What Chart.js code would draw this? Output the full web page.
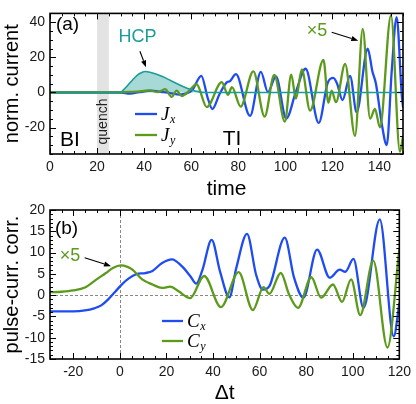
<!DOCTYPE html>
<html><head><meta charset="utf-8">
<script src="https://cdn.jsdelivr.net/npm/chart.js@4.4.1/dist/chart.umd.min.js"></script>
<style>
html,body{margin:0;padding:0;background:#fff;}
#wrap{position:relative;width:416px;height:404px;overflow:hidden;background:#fff;}
canvas{position:absolute;left:0;}
#c1{top:0;}
#c2{top:195px;}
</style></head><body>
<div id="wrap">
<canvas id="c1" width="416" height="200"></canvas>
<canvas id="c2" width="416" height="209"></canvas>
</div>
<script>
// ---------- panel (a): normalised current vs time ----------
const hcpTime   = [0, 30, 31, 33, 35, 37, 39, 40.5, 42, 45, 48, 51, 54, 57, 60, 63, 66, 150];
const hcpValues = [0, 0, 1.2, 4, 7, 9.8, 11.4, 11.9, 11.7, 10.5, 8.9, 7, 5, 3.1, 1.6, 0.5, 0, 0];

const jxTime   = [0, 30, 34, 38, 43, 47, 51, 55, 58, 60.5, 64.3, 67, 69, 72, 75, 76.5, 79, 85, 89.6, 92.6, 96, 100.4, 104.5, 108.6, 114.2, 118, 120.4, 122, 124.3, 127.5, 130.3, 135, 137, 138.5, 141, 143.1, 145.2, 147.3, 149.5, 150];
const jxValues = [0, 0, -0.6, 0.2, 1.1, 0.4, -0.3, -1.2, -0.5, 1.5, 9.5, -3, -9.4, -1, 5.6, 6.5, 10.4, -13.3, 11.7, 0.2, 9.2, -14.8, 0.5, 13.5, -17.3, 5.5, 8.3, 5, -4.3, 9.5, -11.2, 24.9, 12, 5, -18, -30, 12, 42.9, -2, -8];

const jyTime   = [0, 30, 33, 37, 42, 46, 48.9, 51.7, 53.8, 56, 59, 62.3, 66.6, 73, 75.6, 77.3, 81, 86.4, 91.2, 95.3, 99.8, 102.5, 104.5, 107, 110.5, 116.2, 118.3, 119.7, 121.5, 125.4, 129.6, 132.9, 136, 138.1, 140.2, 144.9, 148.7, 150];
const jyValues = [0, 0, 0.3, 0.5, 1.2, 0.2, 1.9, -2.5, 1.1, -2, 0.8, 4.7, -8.3, 5.9, -1.3, 3, -8, 12, -13.7, 10, -16.6, 10.2, -3.5, 13.1, -10.3, 18.5, -5.8, 1, -5.5, 16.2, -24.7, 36.2, -14.8, -9.4, -19.8, 43.8, -33.7, -25];

const timeTicks    = [0, 20, 40, 60, 80, 100, 120, 140];
const currentTicks = [-20, 0, 20, 40];

// ---------- panel (b): pulse-current correlation vs lag ----------
const cxLag    = [-30, -20, -15, -11, -8, -5, -2, 1, 4, 7, 11, 14, 18, 22.4, 26.6, 30.2, 32.8, 35.5, 39.4, 43, 47, 50, 54.6, 58.5, 61.4, 64.2, 70.8, 74.8, 78.8, 84.7, 90.1, 94.4, 96.8, 100.3, 104.6, 111.6, 117.6, 120];
const cxValues = [-3.8, -3.8, -3.6, -3.1, -2.4, -1, 0.8, 2.6, 4, 4.9, 5.2, 5.7, 7.5, 8.4, 6.8, 4.5, 2.7, 6, 13, 5.6, -0.5, 6.4, 14.4, 4.8, 1.3, 2.1, 13.5, 4.1, -0.6, 10.7, 4.1, 6.0, 5.5, 8.5, -3.0, 17.8, -9.7, -2];

const cyLag    = [-30, -25, -20, -15, -10, -6, -3, 0.5, 3, 5.4, 9.6, 14, 18.1, 21.7, 25.2, 30.2, 36.2, 43.4, 51, 57.1, 61.7, 64.2, 69.1, 72.7, 76.5, 82.2, 86.4, 91.5, 95.4, 99.3, 103.2, 108.8, 114.9, 120];
const cyValues = [0.7, 0.8, 1.1, 1.8, 3.7, 5.2, 6.4, 7.0, 6.7, 6.0, 3.7, 2.5, 1.7, 2.0, 0.9, -0.7, 4.5, -2.8, 5.4, -3.5, 1.9, 0.3, 5.2, 0.1, -3.0, 4.2, -0.6, 2.5, -1.6, 3.7, -4.7, 8.1, -12.3, 10.7];

const lagTicks  = [-20, 0, 20, 40, 60, 80, 100, 120];
const corrTicks = [-15, -10, -5, 0, 5, 10, 15, 20];

// ---------- styling ----------
const BLUE = '#1f4cf2', GREEN = '#5b9a1b', TEAL = '#1c9c99', TEALFILL = '#a7d9d6';
const SANS = '"Liberation Sans", Arial, Helvetica, sans-serif';
const SERIF = '"Liberation Serif", "Times New Roman", serif';

const pts = (xs, ys) => xs.map((x, i) => ({x: x, y: ys[i]}));

// frame + inward ticks on all four sides
const framePlugin = {
  id: 'frame',
  afterDatasetsDraw(chart, args, o) {
    const {ctx, chartArea: {left, right, top, bottom}, scales: {x, y}} = chart;
    const xs = x.ticks.map(t => t.value), ys = y.ticks.map(t => t.value);
    ctx.save();
    ctx.strokeStyle = '#000';
    ctx.lineWidth = 1;
    ctx.beginPath();
    for (let v = Math.ceil(x.min / o.xMinor) * o.xMinor; v <= x.max + 1e-9; v += o.xMinor) {
      const p = Math.round(x.getPixelForValue(v)) + 0.5;
      const L = xs.some(m => Math.abs(m - v) < 1e-6) ? o.major : o.minor;
      ctx.moveTo(p, bottom); ctx.lineTo(p, bottom - L);
      ctx.moveTo(p, top); ctx.lineTo(p, top + L);
    }
    for (let v = Math.ceil(y.min / o.yMinor) * o.yMinor; v <= y.max + 1e-9; v += o.yMinor) {
      const p = Math.round(y.getPixelForValue(v)) + 0.5;
      const L = ys.some(m => Math.abs(m - v) < 1e-6) ? o.major : o.minor;
      ctx.moveTo(left, p); ctx.lineTo(left + L, p);
      ctx.moveTo(right, p); ctx.lineTo(right - L, p);
    }
    ctx.stroke();
    ctx.lineWidth = 1.6;
    ctx.strokeRect(left, top, right - left, bottom - top);
    ctx.restore();
  }
};

// background decorations (quench band, dashed zero lines)
const backPlugin = {
  id: 'back',
  beforeDatasetsDraw(chart, args, o) {
    const {ctx, chartArea: {left, right, top, bottom}, scales: {x, y}} = chart;
    ctx.save();
    (o.bands || []).forEach(b => {
      ctx.fillStyle = b.color;
      const x1 = x.getPixelForValue(b.from), x2 = x.getPixelForValue(b.to);
      ctx.fillRect(x1, top, x2 - x1, bottom - top);
    });
    if (o.zeroLines) {
      ctx.strokeStyle = '#7a7a7a';
      ctx.lineWidth = 0.9;
      ctx.setLineDash([3, 2]);
      ctx.beginPath();
      const py = Math.round(y.getPixelForValue(0)) + 0.5;
      const px = Math.round(x.getPixelForValue(0)) + 0.5;
      ctx.moveTo(left, py); ctx.lineTo(right, py);
      ctx.moveTo(px, top); ctx.lineTo(px, bottom);
      ctx.stroke();
    }
    ctx.restore();
  }
};

// text annotations and arrows (placed in data coordinates)
const annotPlugin = {
  id: 'annot',
  afterDatasetsDraw(chart, args, o) {
    const {ctx, scales: {x, y}} = chart;
    ctx.save();
    (o.texts || []).forEach(t => {
      ctx.save();
      ctx.font = t.font;
      ctx.fillStyle = t.color || '#000';
      ctx.textAlign = t.align || 'left';
      ctx.textBaseline = 'middle';
      ctx.translate(x.getPixelForValue(t.x), y.getPixelForValue(t.y));
      if (t.rot) ctx.rotate(t.rot);
      ctx.fillText(t.text, 0, 0);
      ctx.restore();
    });
    (o.arrows || []).forEach(a => {
      const x1 = x.getPixelForValue(a.from[0]), y1 = y.getPixelForValue(a.from[1]);
      const x2 = x.getPixelForValue(a.to[0]), y2 = y.getPixelForValue(a.to[1]);
      const ang = Math.atan2(y2 - y1, x2 - x1);
      const hl = 7, hw = 2.6;
      ctx.strokeStyle = '#000'; ctx.fillStyle = '#000'; ctx.lineWidth = 1.1;
      ctx.beginPath();
      ctx.moveTo(x1, y1);
      ctx.lineTo(x2 - hl * Math.cos(ang), y2 - hl * Math.sin(ang));
      ctx.stroke();
      ctx.beginPath();
      ctx.moveTo(x2, y2);
      ctx.lineTo(x2 - hl * Math.cos(ang) + hw * Math.sin(ang), y2 - hl * Math.sin(ang) - hw * Math.cos(ang));
      ctx.lineTo(x2 - hl * Math.cos(ang) - hw * Math.sin(ang), y2 - hl * Math.sin(ang) + hw * Math.cos(ang));
      ctx.closePath();
      ctx.fill();
    });
    ctx.restore();
  }
};

// legend with italic symbol + subscript
const subLegendPlugin = {
  id: 'subLegend',
  afterDatasetsDraw(chart, args, o) {
    const ctx = chart.ctx;
    ctx.save();
    (o.items || []).forEach(it => {
      const ds = chart.data.datasets[it.index];
      ctx.strokeStyle = ds.borderColor;
      ctx.lineWidth = ds.borderWidth;
      ctx.beginPath(); ctx.moveTo(it.x1, it.y); ctx.lineTo(it.x2, it.y); ctx.stroke();
      ctx.fillStyle = '#000';
      ctx.textAlign = 'left';
      ctx.textBaseline = 'alphabetic';
      ctx.font = 'italic 19px ' + SERIF;
      const main = ds.label.charAt(0), sub = ds.label.slice(1);
      ctx.fillText(main, it.x2 + 4, it.y + 6);
      const w = ctx.measureText(main).width;
      ctx.font = 'italic 12px ' + SERIF;
      ctx.fillText(sub, it.x2 + 4 + w + 0.5, it.y + 9);
    });
    ctx.restore();
  }
};

function axisX(min, max, ticks, height, title) {
  return {
    type: 'linear', min: min, max: max,
    afterBuildTicks: s => { s.ticks = ticks.map(v => ({value: v})); },
    afterFit: s => { s.height = height; },
    grid: {display: false, drawTicks: false},
    border: {display: false},
    ticks: {font: {family: SANS, size: 14}, color: '#1a1a1a', padding: 5, maxRotation: 0, autoSkip: false},
    title: {display: true, text: title, color: '#000', font: {family: SANS, size: 21, lineHeight: 1}, padding: {top: 0, bottom: 0}}
  };
}
function axisY(min, max, ticks, title) {
  return {
    type: 'linear', min: min, max: max,
    afterBuildTicks: s => { s.ticks = ticks.map(v => ({value: v})); },
    afterFit: s => { s.width = 50; },
    grid: {display: false, drawTicks: false},
    border: {display: false},
    ticks: {font: {family: SANS, size: 14}, color: '#1a1a1a', padding: 5, autoSkip: false},
    title: {display: true, text: title, color: '#000', font: {family: SANS, size: 20, lineHeight: 1.2}, padding: {top: 0, bottom: 0}}
  };
}

const common = {
  responsive: false, animation: false, events: [],
  elements: {point: {radius: 0}, line: {cubicInterpolationMode: 'monotone', borderJoinStyle: 'round', borderCapStyle: 'round'}}
};

new Chart(document.getElementById('c1'), {
  type: 'line',
  data: {datasets: [
    {label: 'HCP', data: pts(hcpTime, hcpValues), borderColor: TEAL, borderWidth: 1.6, fill: 'origin', backgroundColor: TEALFILL, order: 0},
    {label: 'Jy', data: pts(jyTime, jyValues), borderColor: GREEN, borderWidth: 2.3, fill: false, order: 1},
    {label: 'Jx', data: pts(jxTime, jxValues), borderColor: BLUE, borderWidth: 2.3, fill: false, order: 2}
  ]},
  options: Object.assign({}, common, {
    layout: {padding: {top: 5, right: 13, left: 0, bottom: 0}},
    plugins: {
      legend: {display: false}, tooltip: {enabled: false},
      filler: {drawTime: 'beforeDatasetsDraw'},
      back: {bands: [{from: 20, to: 25, color: '#e3e3e3'}]},
      frame: {xMinor: 5, yMinor: 5, major: 6, minor: 3},
      annot: {
        texts: [
          {text: '(a)', x: 2.5, y: 38.6, font: '19px ' + SANS},
          {text: 'HCP', x: 37.2, y: 31.4, align: 'center', font: '18px ' + SANS, color: TEAL},
          {text: 'quench', x: 22.6, y: -16.5, align: 'center', rot: -Math.PI / 2, font: '14px ' + SANS, color: '#222'},
          {text: 'BI', x: 4.25, y: -27, font: '21px ' + SANS},
          {text: 'TI', x: 73.4, y: -26.5, font: '21px ' + SANS},
          {text: '×5', x: 109.1, y: 34.9, font: '18px ' + SANS, color: GREEN}
        ],
        arrows: [
          {from: [38.2, 23.5], to: [40.8, 14.3]},
          {from: [119.7, 34.3], to: [131, 29.5]}
        ]
      },
      subLegend: {items: [
        {index: 2, x1: 135, x2: 157, y: 114},
        {index: 1, x1: 135, x2: 157, y: 135}
      ]}
    },
    scales: {
      x: axisX(0, 150, timeTicks, 46, 'time'),
      y: axisY(-35, 45, currentTicks, 'norm. current')
    }
  }),
  plugins: [backPlugin, framePlugin, annotPlugin, subLegendPlugin]
});

new Chart(document.getElementById('c2'), {
  type: 'line',
  data: {datasets: [
    {label: 'Cy', data: pts(cyLag, cyValues), borderColor: GREEN, borderWidth: 2.3, fill: false, order: 1},
    {label: 'Cx', data: pts(cxLag, cxValues), borderColor: BLUE, borderWidth: 2.3, fill: false, order: 2}
  ]},
  options: Object.assign({}, common, {
    layout: {padding: {top: 15, right: 13, left: 0, bottom: 0}},
    plugins: {
      legend: {display: false}, tooltip: {enabled: false},
      back: {zeroLines: true},
      frame: {xMinor: 5, yMinor: 1, major: 6, minor: 3},
      annot: {
        texts: [
          {text: '(b)', x: -27.9, y: 15.7, font: '19px ' + SANS},
          {text: '×5', x: -25.8, y: 9.2, font: '18px ' + SANS, color: GREEN}
        ],
        arrows: [
          {from: [-15.1, 8.8], to: [-3.8, 6.8]}
        ]
      },
      subLegend: {items: [
        {index: 1, x1: 162, x2: 183, y: 126},
        {index: 0, x1: 162, x2: 183, y: 146}
      ]}
    },
    scales: {
      x: axisX(-30, 120, lagTicks, 45, 'Δt'),
      y: axisY(-15, 20, corrTicks, 'pulse-curr. corr.')
    }
  }),
  plugins: [backPlugin, framePlugin, annotPlugin, subLegendPlugin]
});
</script>
</body></html>
